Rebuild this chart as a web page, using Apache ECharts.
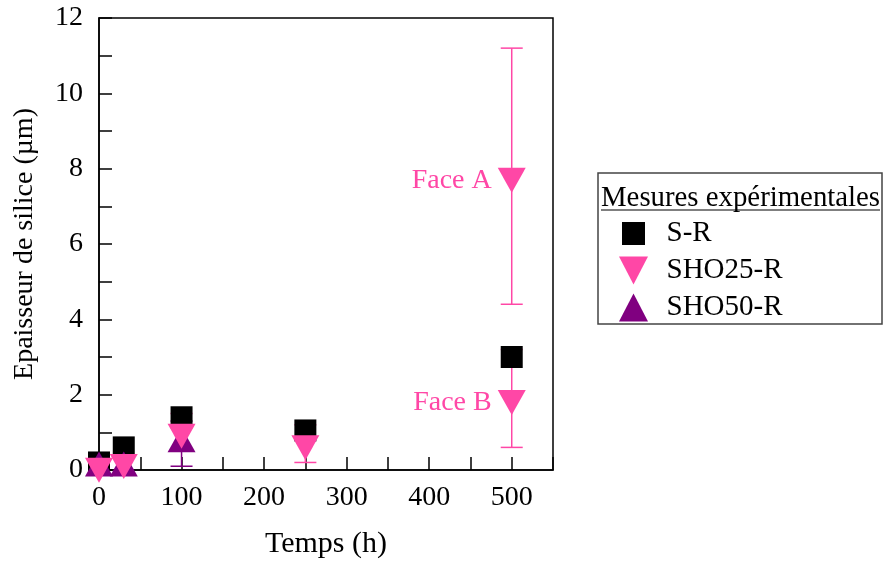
<!DOCTYPE html>
<html>
<head>
<meta charset="utf-8">
<script src="https://cdn.jsdelivr.net/npm/echarts@6/dist/echarts.min.js"></script>
<style>html,body{margin:0;padding:0;background:#fff;}#c{width:884px;height:563px;}</style>
</head>
<body>
<div id="c"></div>
<script>
// ---- data ----
const seriesNames = ['S-R', 'SHO25-R', 'SHO50-R'];
const timeSR = [0, 30, 100, 250, 500];
const valSR = [0.2, 0.6, 1.4, 1.05, 3.0];
const time25 = [0, 30, 100, 250, 500, 500];
const val25 = [0.1, 0.2, 1.0, 0.7, 7.8, 1.9];
const err25 = [null, null, 0.5, 0.5, 3.4, 1.3];
const label25 = ['', '', '', '', 'Face A', 'Face B'];
const time50 = [0, 30, 100];
const val50 = [0.05, 0.05, 0.7];
const err50 = [null, null, 0.6];
const legendTitle = 'Mesures expérimentales';
const xTitle = 'Temps (h)';
const yTitle = 'Epaisseur de silice (µm)';

const PINK = '#FF47A6', PURPLE = '#800080', BLACK = '#000';
const FONT = '"Liberation Serif", "Times New Roman", serif';

function pts(t, v) { return t.map((x, i) => [x, v[i]]); }
function errData(t, v, e) {
  const out = [];
  t.forEach((x, i) => { if (e[i] != null) out.push([x, v[i] - e[i], v[i] + e[i]]); });
  return out;
}
function errRender(color) {
  return function (params, api) {
    const x = api.value(0), lo = api.value(1), hi = api.value(2);
    const a = api.coord([x, hi]), b = api.coord([x, lo]);
    const hw = 11;
    const st = { stroke: color, lineWidth: 1.5 };
    return { type: 'group', children: [
      { type: 'line', shape: { x1: a[0], y1: a[1], x2: b[0], y2: b[1] }, style: st },
      { type: 'line', shape: { x1: a[0] - hw, y1: a[1], x2: a[0] + hw, y2: a[1] }, style: st },
      { type: 'line', shape: { x1: b[0] - hw, y1: b[1], x2: b[0] + hw, y2: b[1] }, style: st }
    ] };
  };
}

const chart = echarts.init(document.getElementById('c'), null, { renderer: 'canvas' });
const data25 = pts(time25, val25).map((p, i) => ({
  value: p,
  label: { show: !!label25[i], formatter: label25[i] }
}));

chart.setOption({
  animation: false,
  backgroundColor: '#fff',
  textStyle: { fontFamily: FONT },
  grid: { left: 99, right: 331, top: 18, bottom: 93, show: true, outerBoundsMode: 'none', containLabel: false,
    borderColor: '#000', borderWidth: 1.5, backgroundColor: 'transparent' },
  xAxis: {
    type: 'value', min: 0, max: 550, interval: 50,
    name: xTitle, nameLocation: 'middle', nameGap: 59,
    nameTextStyle: { fontFamily: FONT, fontSize: 30, color: '#000' },
    axisLine: { lineStyle: { color: '#000', width: 1.5 } },
    axisTick: { inside: true, length: 13, lineStyle: { color: '#000', width: 1.5 } },
    axisLabel: { fontFamily: FONT, fontSize: 28, color: '#000', margin: 14,
      formatter: v => (v % 100 === 0 && v <= 500) ? String(v) : '' },
    splitLine: { show: false }
  },
  yAxis: {
    type: 'value', min: 0, max: 12, interval: 1,
    name: yTitle, nameLocation: 'middle', nameGap: 60, nameRotate: 90,
    nameTextStyle: { fontFamily: FONT, fontSize: 28, color: '#000' },
    axisLine: { lineStyle: { color: '#000', width: 1.5 } },
    axisTick: { inside: true, length: 13, lineStyle: { color: '#000', width: 1.5 } },
    axisLabel: { fontFamily: FONT, fontSize: 28, color: '#000', margin: 16,
      formatter: v => (v % 2 === 0) ? String(v) : '' },
    splitLine: { show: false }
  },
  legend: {
    orient: 'vertical', left: 614, top: 214,
    itemWidth: 56, itemHeight: 28, itemGap: 8,
    textStyle: { fontFamily: FONT, fontSize: 29, color: '#000' },
    data: [
      { name: seriesNames[0], icon: 'path://M0,0M2.5,2.5H25.5V25.5H2.5ZM28,28' },
      { name: seriesNames[1], icon: 'path://M0,0L29,0L14.5,28Z' },
      { name: seriesNames[2], icon: 'path://M14.5,0L29,28L0,28Z' }
    ],
    selectedMode: false
  },
  graphic: [
    { type: 'rect', shape: { x: 598, y: 173, width: 284, height: 151 }, style: { fill: 'none', stroke: '#444', lineWidth: 1.5 }, z: 100 },
    { type: 'text', x: 601, y: 198, style: { text: legendTitle, font: '28.8px ' + FONT, fill: '#000', textVerticalAlign: 'middle', verticalAlign: 'middle' }, z: 100 },
    { type: 'line', shape: { x1: 601, y1: 210, x2: 880, y2: 210 }, style: { stroke: '#000', lineWidth: 1.2 }, z: 100 }
  ],
  series: [
    { name: seriesNames[0], type: 'scatter', clip: false, symbol: 'rect', symbolSize: 22,
      itemStyle: { color: BLACK, opacity: 1 }, data: pts(timeSR, valSR) },
    { name: 'err25', type: 'custom', clip: false, renderItem: errRender(PINK),
      data: errData(time25, val25, err25), encode: { x: 0, y: [1, 2] } },
    { name: 'err50', type: 'custom', clip: false, renderItem: errRender(PURPLE),
      data: errData(time50, val50, err50), encode: { x: 0, y: [1, 2] } },
    { name: seriesNames[2], type: 'scatter', clip: false, symbol: 'triangle', symbolSize: [28, 25],
      symbolOffset: [0, -4], itemStyle: { color: PURPLE, opacity: 1 }, data: pts(time50, val50) },
    { name: seriesNames[1], type: 'scatter', clip: false, symbol: 'triangle', symbolRotate: 180, symbolSize: [28, 25],
      symbolOffset: [0, 4], itemStyle: { color: PINK, opacity: 1 },
      label: { position: 'left', distance: 6, fontFamily: FONT, fontSize: 28, color: PINK },
      data: data25 }
  ]
});
</script>
</body>
</html>
